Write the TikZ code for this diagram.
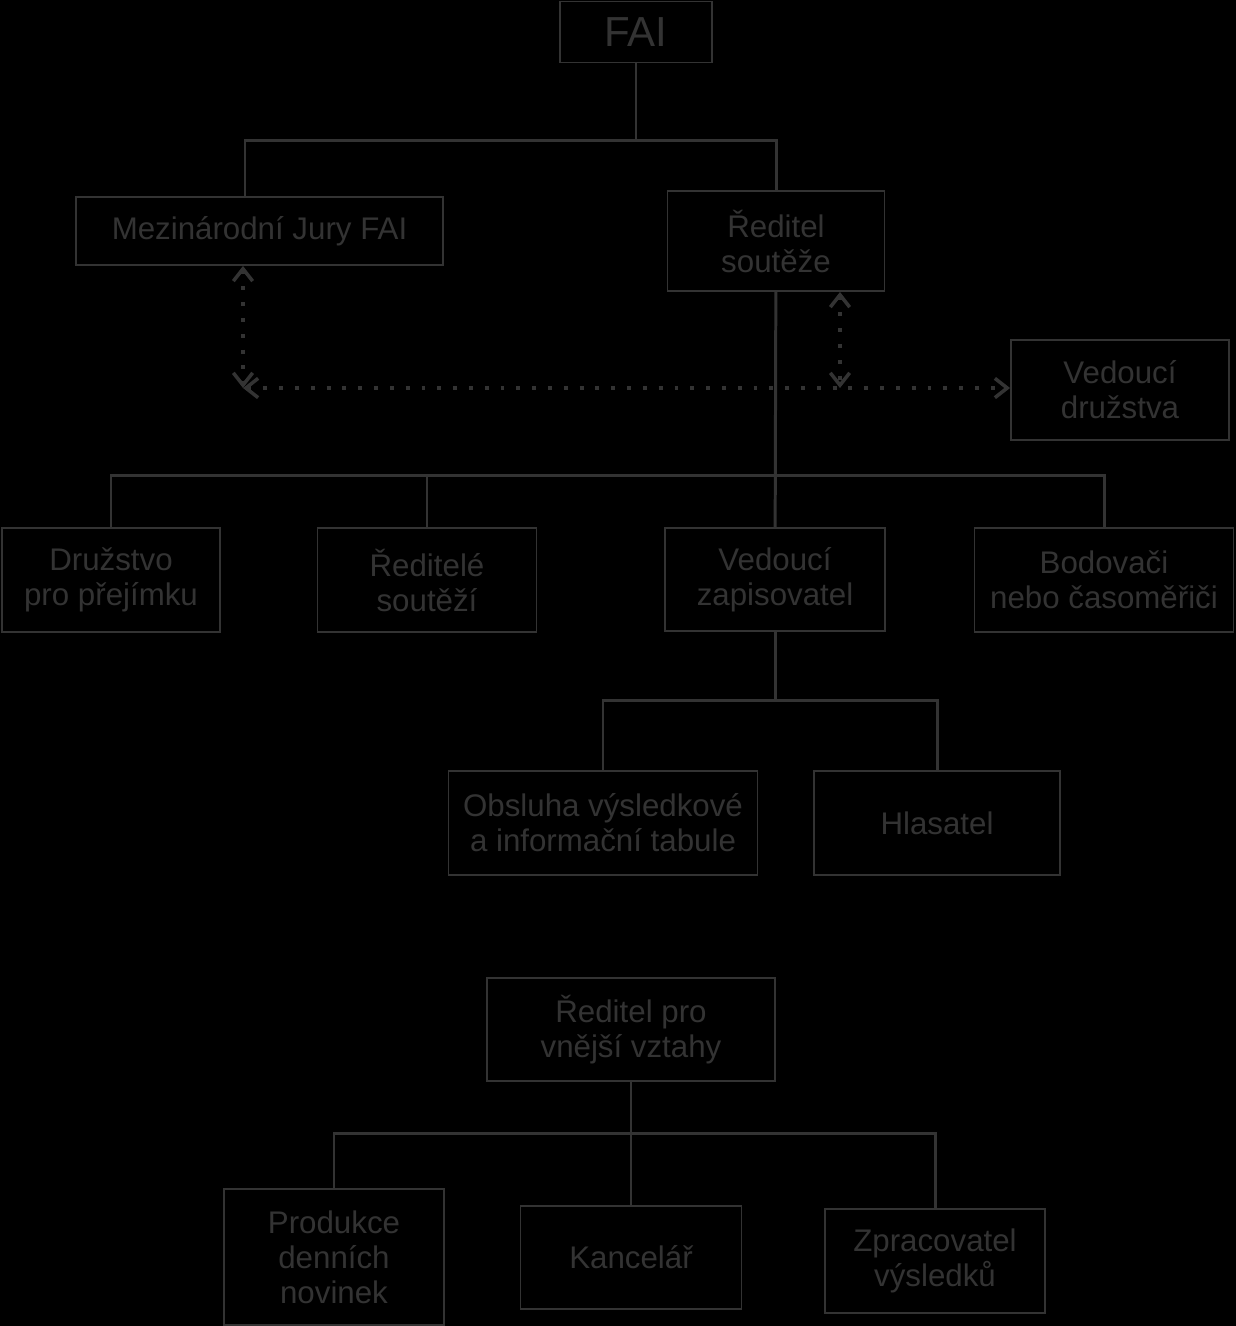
\documentclass[tikz,border=0pt]{standalone}
\usepackage{fontspec}
\setmainfont{Liberation Sans}
\usetikzlibrary{arrows.meta}
\definecolor{ink}{RGB}{51,51,51}
\begin{document}
\begin{tikzpicture}[x=0.02cm,y=-0.02cm,
	box/.style 2 args={draw=ink, line width=1.1pt, text=ink, align=center, inner sep=0pt,
		font=\fontsize{17.8}{19.9}\selectfont,
		minimum width=#1*0.02cm, minimum height=#2*0.02cm},
	link/.style={draw=ink, line width=1.7pt},
	hint/.style={draw=ink, line width=2.2pt, dash pattern=on 2.2pt off 6.8pt,
		{Straight Barb[length=7pt,width=11pt,line width=2pt]}-{Straight Barb[length=7pt,width=11pt,line width=2pt]}}]
	\fill [black] (0,0) rectangle (1236,1326);

	\node [box={152}{61}, font=\fontsize{23.9}{28}\selectfont] (fai) at (636,32) {FAI};
	\node [box={367}{68}] (jury) at (259.5,231) {Mezinárodní Jury FAI};
	\node [box={217}{100}] (dir) at (776,241) {Ředitel\\soutěže};
	\node [box={218}{100}] (vd) at (1120,390) {Vedoucí\\družstva};

	\node [box={218}{104}] (druz) at (111,580) {Družstvo\\pro přejímku};
	\node [box={219}{104}] (red) at (427,580) {Ředitelé\\soutěží};
	\node [box={220}{103}] (zap) at (775,579.5) {Vedoucí\\zapisovatel};
	\node [box={259}{104}] (bod) at (1104,580) {Bodovači\\nebo časoměřiči};

	\node [box={309}{104}] (obs) at (603,823) {Obsluha výsledkové\\a informační tabule};
	\node [box={246}{104}] (hla) at (937,823) {Hlasatel};

	\node [box={288}{103}] (vv) at (631,1029.5) {Ředitel pro\\vnější vztahy};
	\node [box={220}{136}] (prod) at (334,1257) {Produkce\\denních\\novinek};
	\node [box={221}{103}] (kanc) at (631,1257.5) {Kancelář};
	\node [box={220}{104}] (zpr) at (935,1261) {Zpracovatel\\výsledků};

	% junctions
	\coordinate (b1) at (245,140);
	\coordinate (b2) at (776,475);
	\coordinate (b3) at (775,700);
	\coordinate (b4) at (631,1133);
	\coordinate (corner) at (243,388);
	\coordinate (tap) at (840,388);

	\draw [link] (fai) -- (fai |- b1);
	\draw [link] (jury.north -| b1) -- (b1) -- (dir.north |- b1) -- (dir.north);
	\draw [link] (dir) -- (zap);
	\draw [link] (druz) |- (b2) -| (bod);
	\draw [link] (red) -- (red |- b2);
	\draw [link] (zap) -- (b3);
	\draw [link] (obs) |- (b3) -| (hla);
	\draw [link] (vv) -- (kanc);
	\draw [link] (prod) |- (b4) -| (zpr);

	\draw [hint] (jury.south -| corner) -- (corner);
	\draw [hint] (corner) -- (vd.west |- corner);
	\draw [hint] (dir.south -| tap) -- (tap);
\end{tikzpicture}
\end{document}
